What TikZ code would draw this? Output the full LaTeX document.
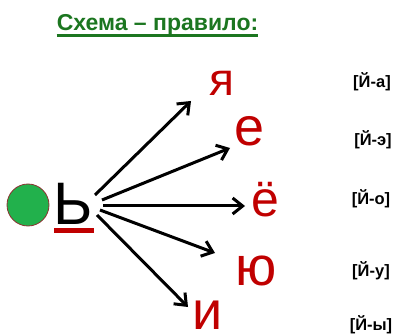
\documentclass[tikz,border=0pt]{standalone}
\usepackage{fontspec}
\setmainfont{Liberation Sans}
\usetikzlibrary{arrows.meta}
\definecolor{titlegreen}{RGB}{28,118,32}
\definecolor{ballgreen}{RGB}{34,177,76}
\definecolor{ballrim}{RGB}{140,50,50}
\definecolor{letred}{RGB}{192,0,0}
\tikzset{
  vowel/.style={text=letred, inner sep=0pt, anchor=base west},
  sound/.style={font=\bfseries\fontsize{16.5}{16.5}\selectfont, inner sep=0pt, anchor=center},
  fan/.style={line width=3pt, -{Straight Barb[length=10pt,width=16pt,line width=3pt]}}
}
\begin{document}
\begin{tikzpicture}[x=1pt,y=-1pt]
\useasboundingbox (0,0) rectangle (398,336);
% title
\node[inner sep=0pt, anchor=base, text=titlegreen, font=\bfseries\fontsize{23}{23}\selectfont] (title) at (157.5,31) {Схема – правило:};
\draw[titlegreen, line width=2.8pt] ([yshift=-4.5pt]title.base west) -- ([yshift=-4.5pt]title.base east);
% ball and soft sign
\node[circle, fill=ballgreen, draw=ballrim, line width=0.8pt, minimum size=42pt, inner sep=0pt] (ball) at (28,205) {};
\node[inner sep=0pt, anchor=base west, font=\fontsize{60}{60}\selectfont] (soft) at (53.5,225) {Ь};
\fill[letred] (54,228) rectangle (94,233);
% vowels
\node[vowel, font=\fontsize{46}{46}\selectfont] (ya) at (209,96) {я};
\node[vowel, font=\fontsize{54}{54}\selectfont] (ye) at (234,146) {е};
\node[vowel, font=\fontsize{50}{50}\selectfont] (yo) at (251.5,217) {ё};
\node[vowel, font=\fontsize{55}{55}\selectfont] (yu) at (235,285) {ю};
\node[vowel, font=\fontsize{54}{54}\selectfont] (yi) at (192.5,329) {и};
% arrow anchors
\coordinate (s1) at (95,195);
\coordinate (s2) at (102,200);
\coordinate (s3) at (103,206);
\coordinate (s4) at (100,210);
\coordinate (s5) at (97,215);
\coordinate (t1) at (191,101);
\coordinate (t2) at (230,148);
\coordinate (t3) at (245,206);
\coordinate (t4) at (215,253);
\coordinate (t5) at (188,307);
\draw[fan] (s1) -- (t1);
\draw[fan] (s2) -- (t2);
\draw[fan] (s3) -- (t3);
\draw[fan] (s4) -- (t4);
\draw[fan] (s5) -- (t5);
% sounds
\node[sound] (sa) at (372,82) {[Й-а]};
\node[sound] (se) at (373,140) {[Й-э]};
\node[sound] (so) at (371,199) {[Й-о]};
\node[sound] (su) at (371,271) {[Й-у]};
\node[sound] (sy) at (371,325) {[Й-ы]};
\end{tikzpicture}
\end{document}
